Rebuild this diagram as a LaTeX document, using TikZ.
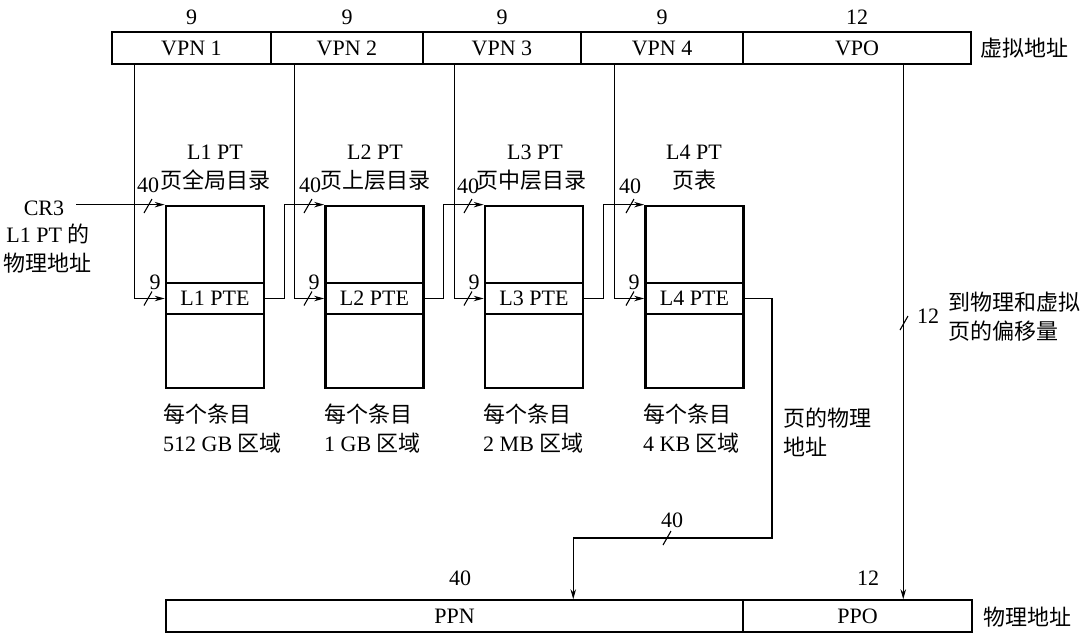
\documentclass[tikz,border=0pt]{standalone}
\usepackage{fontspec}
\setmainfont{Liberation Serif}
\newfontfamily\cjk{Noto Sans CJK SC}
\usetikzlibrary{arrows.meta,calc}
\begin{document}
\begin{tikzpicture}[x=1pt,y=-1pt,
  font=\fontsize{22}{29}\selectfont,
  conn/.style={line width=1.1pt},
  arr/.style={conn,-{Stealth[length=10pt,width=5.5pt]}},
  field/.style={draw,line width=1.5pt,minimum height=32pt,inner sep=0pt},
  tbl/.style={draw,line width=2.7pt,minimum width=98pt,inner sep=0pt},
  lbl/.style={inner sep=0pt},
  bitslash/.pic={\draw[line width=1.1pt] (-4,7) -- (4,-7);}
  ]
\useasboundingbox (0,0) rectangle (1085,633);

% virtual address
\node[field,minimum width=159pt] (vpn1) at (191.5,48) {VPN 1};
\node[field,minimum width=152pt] (vpn2) at (347,48) {VPN 2};
\node[field,minimum width=158pt] (vpn3) at (502,48) {VPN 3};
\node[field,minimum width=162pt] (vpn4) at (662,48) {VPN 4};
\node[field,minimum width=228pt] (vpo) at (857,48) {VPO};
\node[lbl] (b1) at (191.5,17) {9};
\node[lbl] (b2) at (347,17) {9};
\node[lbl] (b3) at (502,17) {9};
\node[lbl] (b4) at (662,17) {9};
\node[lbl] (b5) at (857,17) {12};
\node[lbl,anchor=west] (va) at (980,48) {\cjk 虚拟地址};

% tables
\node[tbl,minimum height=182pt] (t1) at (215,297) {};
\node[tbl,minimum height=182pt] (t2) at (374.5,297) {};
\node[tbl,minimum height=182pt] (t3) at (534,297) {};
\node[tbl,minimum height=182pt] (t4) at (694.5,297) {};
\node[tbl,minimum height=31pt] (p1) at (215,298.5) {L1 PTE};
\node[tbl,minimum height=31pt] (p2) at (374.5,298.5) {L2 PTE};
\node[tbl,minimum height=31pt] (p3) at (534,298.5) {L3 PTE};
\node[tbl,minimum height=31pt] (p4) at (694.5,298.5) {L4 PTE};

\node[lbl] (h1) at (215,152) {L1 PT};
\node[lbl] (c1) at (215,180) {\cjk 页全局目录};
\node[lbl] (h2) at (375,152) {L2 PT};
\node[lbl] (c2) at (375,180) {\cjk 页上层目录};
\node[lbl] (h3) at (535,152) {L3 PT};
\node[lbl] (c3) at (531,180) {\cjk 页中层目录};
\node[lbl] (h4) at (694,152) {L4 PT};
\node[lbl] (c4) at (694,180) {\cjk 页表};

\node[lbl,anchor=west,align=left] (e1) at (163,429) {{\cjk 每个条目}\\512 GB {\cjk 区域}};
\node[lbl,anchor=west,align=left] (e2) at (324,429) {{\cjk 每个条目}\\1 GB {\cjk 区域}};
\node[lbl,anchor=west,align=left] (e3) at (483,429) {{\cjk 每个条目}\\2 MB {\cjk 区域}};
\node[lbl,anchor=west,align=left] (e4) at (643,429) {{\cjk 每个条目}\\4 KB {\cjk 区域}};

% CR3
\node[lbl] (cr3) at (44,208) {CR3};
\node[lbl,align=center] (cr3t) at (48,249) {L1 PT {\cjk 的}\\{\cjk 物理地址}};

% bit widths on table inputs
\node[lbl] (w1a) at (148,185) {40};
\node[lbl] (w1b) at (155,282) {9};
\node[lbl] (w2a) at (310,185) {40};
\node[lbl] (w2b) at (314,282) {9};
\node[lbl] (w3a) at (468,186) {40};
\node[lbl] (w3b) at (474,282) {9};
\node[lbl] (w4a) at (630,186) {40};
\node[lbl] (w4b) at (634,282) {9};
\pic at (148,206) {bitslash};
\pic at (148,298.5) {bitslash};
\pic at (308,206) {bitslash};
\pic at (308,298.5) {bitslash};
\pic at (468,206) {bitslash};
\pic at (468,298.5) {bitslash};
\pic at (630,206) {bitslash};
\pic at (630,298.5) {bitslash};

% physical address
\node[field,minimum width=577pt] (ppn) at (454.5,616) {PPN};
\node[field,minimum width=229pt] (ppo) at (857.5,616) {PPO};
\node[lbl] (pb1) at (460,578) {40};
\node[lbl] (pb2) at (868,578) {12};
\node[lbl,anchor=west] (pa) at (983,617) {\cjk 物理地址};

% connectors
\draw[arr] ($(cr3.east |- t1.north west)+(12,0)$) -- (t1.north west);
\draw[arr] ([xshift=23pt]vpn1.south west) |- (p1.west);
\draw[arr] ([xshift=24pt]vpn2.south west) |- (p2.west);
\draw[arr] ([xshift=32pt]vpn3.south west) |- (p3.west);
\draw[arr] ([xshift=34pt]vpn4.south west) |- (p4.west);
\draw[arr] (p1.east) -- ++(19,0) |- (t2.north west);
\draw[arr] (p2.east) -- ++(19,0) |- (t3.north west);
\draw[arr] (p3.east) -- ++(19,0) |- (t4.north west);

\coordinate (bend) at (772,538);
\draw[arr] (p4.east) -| (bend) -| ([xshift=408pt]ppn.north west);
\pic at (667,538) {bitslash};
\node[lbl] (w5) at (672,520) {40};
\node[lbl,anchor=west,align=left] (pp) at (783,432) {{\cjk 页的物理}\\{\cjk 地址}};

\coordinate (vpoout) at ([xshift=161pt]vpo.south west);
\draw[arr] (vpoout) -- (vpoout |- ppo.north);
\pic at (904,323) {bitslash};
\node[lbl] (w6) at (928,316) {12};
\node[lbl,anchor=west,align=left] (off) at (948,317) {{\cjk 到物理和虚拟}\\{\cjk 页的偏移量}};
\end{tikzpicture}
\end{document}
